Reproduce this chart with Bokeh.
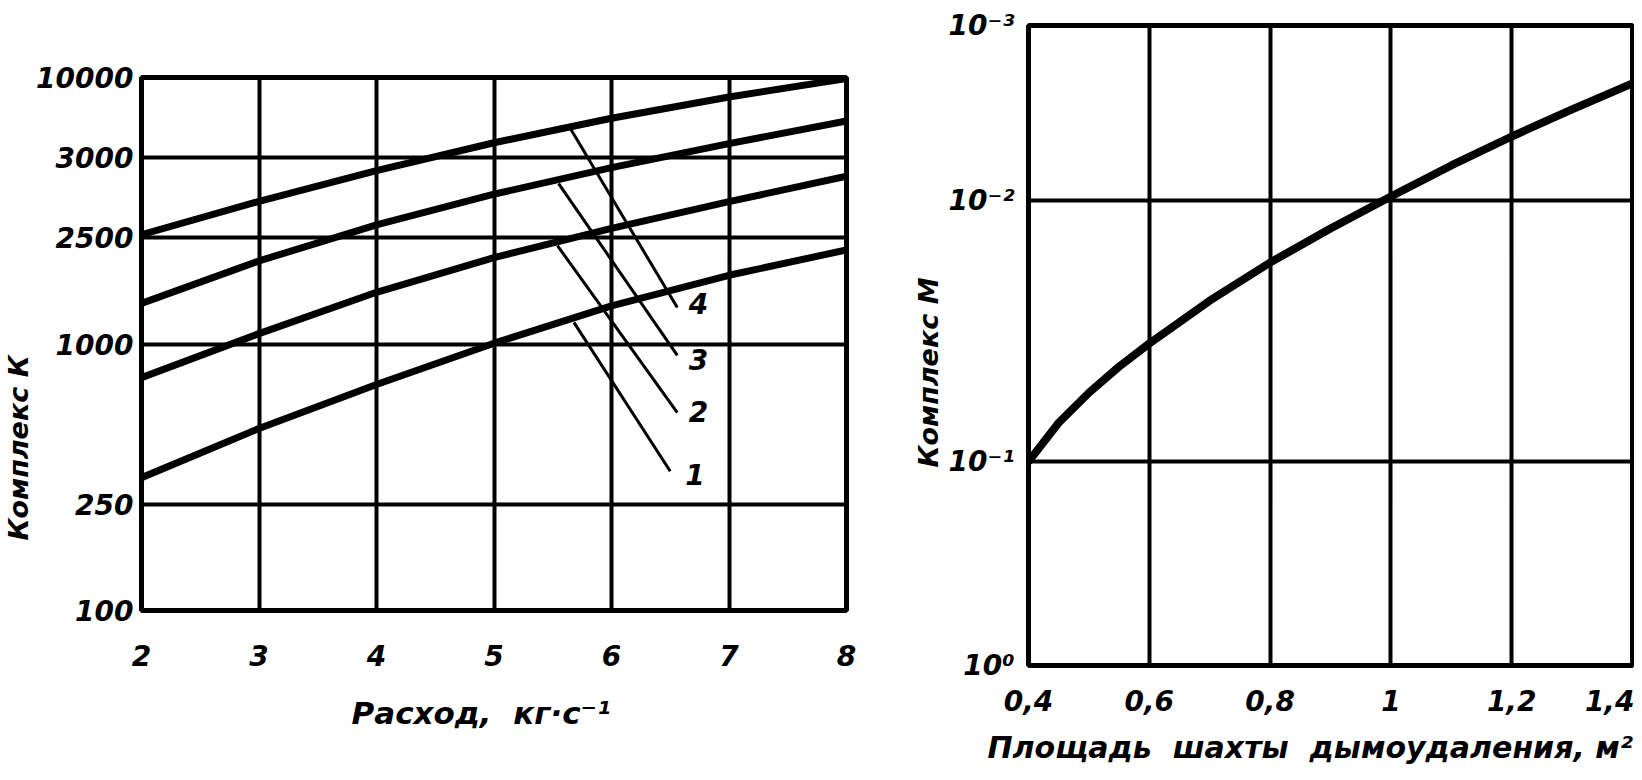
import numpy as np
from bokeh.plotting import figure
from bokeh.layouts import row, column
from bokeh.models import FixedTicker, Range1d, Title
from bokeh.core.properties import value
from bokeh.embed import file_html
from bokeh.resources import INLINE

FONT = "DejaVu Sans"
NB = "\u00a0"

# ---------------- left chart data ----------------
FLOW = [2, 3, 4, 5, 6, 7, 8]                       # Расход, кг/с
K1 = [315, 482, 705, 1007, 1390, 1811, 2254]
K2 = [748, 1094, 1563, 2110, 2716, 3420, 4260]
K3 = [1420, 2050, 2800, 3650, 4590, 5650, 6870]
K4 = [2570, 3430, 4470, 5690, 7030, 8450, 9910]

FLOW_TICKS = [2, 3, 4, 5, 6, 7, 8]
K_TICKS = [100, 250, 1000, 2500, 5000, 10000]
K_TICK_LABELS = ["100", "250", "1000", "2500", "3000", "10000"]   # as printed

# leader lines to curve numbers
LEAD_X0 = [5.68, 5.54, 5.55, 5.65]
LEAD_Y0 = [1205, 2340, 4000, 6440]
LEAD_X1 = [6.50, 6.56, 6.56, 6.56]
LEAD_Y1 = [333, 553, 906, 1370]
NUM_X = [6.71, 6.74, 6.74, 6.74]
NUM_Y = [324, 558, 875, 1420]
NUM_TEXT = ["1", "2", "3", "4"]

# ---------------- right chart data ----------------
AREA = [0.4, 0.45, 0.5, 0.55, 0.6, 0.7, 0.8, 0.9, 1.0, 1.1, 1.2, 1.3, 1.4]
M = [0.1, 0.0710, 0.0545, 0.0433, 0.0353, 0.0242, 0.0173, 0.0128, 0.00949,
     0.00631, 0.00431, 0.00302, 0.00214]
AREA_TICKS = [0.4, 0.6, 0.8, 1.0, 1.2, 1.4]
AREA_TICK_LABELS = ["0,4", "0,6", "0,8", "1", "1,2", "1,4"]
M_EXP = [0, 1, 2, 3]                      # -log10(M) of the printed ticks
M_TICK_LABELS = ["10⁰", "10⁻¹", "10⁻²", "10⁻³"]
M_TICK_POS = [0.0, 0.956, 2.18, 3.0]      # where the printed axis places them


def style(p):
    p.background_fill_color = "white"
    p.border_fill_color = "white"
    p.outline_line_color = "black"
    p.outline_line_width = 5
    for ax in (p.xaxis, p.yaxis):
        ax.axis_line_color = None
        ax.major_tick_line_color = None
        ax.minor_tick_line_color = None
        ax.major_label_text_font = FONT
        ax.major_label_text_font_style = "bold italic"
        ax.major_label_text_font_size = "28px"
        ax.major_label_text_color = "black"
    for g in (p.xgrid, p.ygrid):
        g.grid_line_color = "black"
        g.grid_line_width = 4
        g.grid_line_alpha = 1.0


def title(p, side, text, size, offset, standoff, valign):
    t = Title(text=text, align="left", offset=offset, standoff=standoff,
              vertical_align=valign, text_font=FONT, text_font_style="bold italic",
              text_font_size=size, text_color="black")
    p.add_layout(t, side)


# ---------------- left figure ----------------
p1 = figure(width=906, height=760, x_range=Range1d(2, 8), y_range=Range1d(100, 10000),
            y_axis_type="log", output_backend="svg", toolbar_location=None,
            min_border_left=141, min_border_right=60, min_border_top=77, min_border_bottom=150)
style(p1)
p1.xaxis.ticker = FixedTicker(ticks=FLOW_TICKS)
p1.yaxis.ticker = FixedTicker(ticks=K_TICKS)
p1.yaxis.major_label_overrides = {k: s for k, s in zip(K_TICKS, K_TICK_LABELS)}
p1.xgrid.ticker = FixedTicker(ticks=FLOW_TICKS[1:-1])
p1.ygrid.ticker = FixedTicker(ticks=K_TICKS[1:-1])
p1.xaxis.major_label_standoff = 28
p1.yaxis.major_label_standoff = 2
title(p1, "left", "Комплекс" + NB + "К", "27px", 70, 0, "bottom")
title(p1, "below", "Расход," + NB + NB + "кг·с⁻¹", "31px", 210, 52, "top")

for ys in (K1, K2, K3, K4):
    p1.line(FLOW, ys, line_color="black", line_width=7, line_cap="round")
p1.segment(x0=LEAD_X0, y0=LEAD_Y0, x1=LEAD_X1, y1=LEAD_Y1, line_color="black", line_width=3)
p1.text(x=NUM_X, y=NUM_Y, text=NUM_TEXT, text_font=value(FONT), text_font_style="bold italic",
        text_font_size="28px", text_align="center", text_baseline="middle", text_color="black")

# ---------------- right figure ----------------
u = np.interp(-np.log10(np.array(M)), M_EXP, M_TICK_POS)
p2 = figure(width=728, height=780, x_range=Range1d(0.4, 1.4), y_range=Range1d(0, 3),
            output_backend="svg", toolbar_location=None,
            min_border_left=122, min_border_right=2, min_border_top=25, min_border_bottom=115)
style(p2)
p2.xaxis.ticker = FixedTicker(ticks=AREA_TICKS)
p2.xaxis.major_label_overrides = {k: s for k, s in zip(AREA_TICKS, AREA_TICK_LABELS)}
p2.yaxis.ticker = FixedTicker(ticks=M_TICK_POS)
p2.yaxis.major_label_overrides = {k: s for k, s in zip(M_TICK_POS, M_TICK_LABELS)}
p2.xgrid.ticker = FixedTicker(ticks=AREA_TICKS[1:-1])
p2.ygrid.ticker = FixedTicker(ticks=M_TICK_POS[1:-1])
p2.xaxis.major_label_standoff = 18
p2.yaxis.major_label_standoff = 8
title(p2, "left", "Комплекс" + NB + "М", "27px", 198, 4, "bottom")
title(p2, "below", "Площадь" + NB + NB + "шахты" + NB + NB + "дымоудаления," + NB + "м²",
      "30px", -41, 28, "bottom")

p2.line(AREA, u, line_color="black", line_width=8, line_cap="round", line_join="round")

layout = row(column(p1), column(p2))
open("out.html", "w").write(file_html(layout, INLINE))
